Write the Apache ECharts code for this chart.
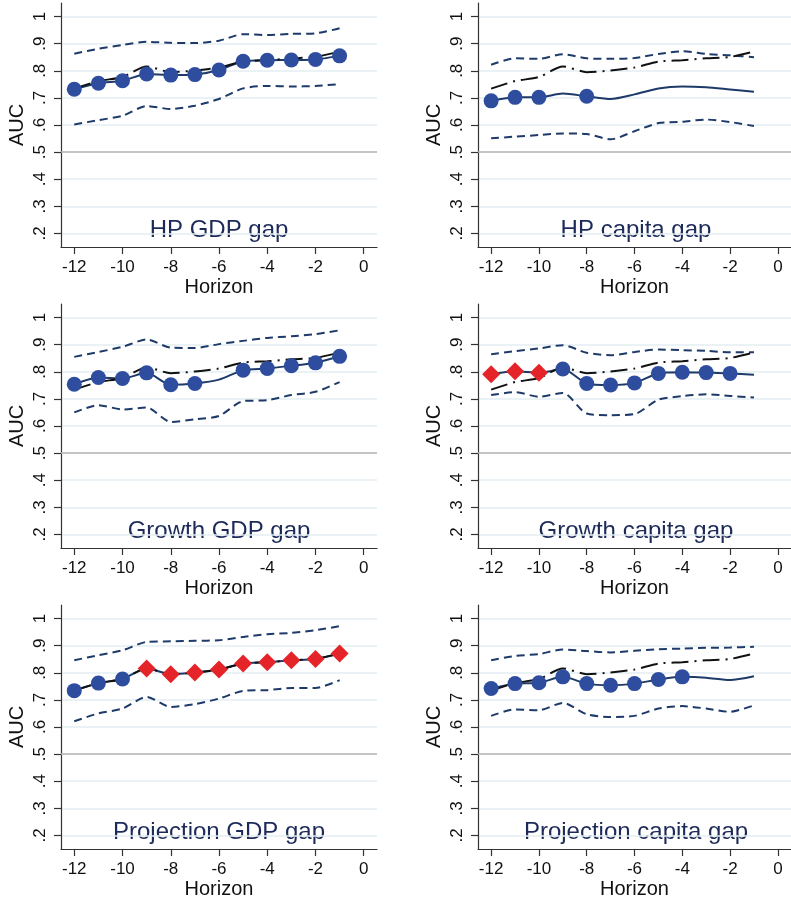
<!DOCTYPE html>
<html>
<head>
<meta charset="utf-8">
<script src="https://cdn.jsdelivr.net/npm/echarts@6/dist/echarts.min.js"></script>
<style>
  html, body { margin: 0; padding: 0; background: #ffffff; }
  #chart { width: 791px; height: 903px; }
</style>
</head>
<body>
<div id="chart"></div>
<script>
// ---------- data ----------
const HORIZON = [-12, -11, -10, -9, -8, -7, -6, -5, -4, -3, -2, -1];
const X_TICKS = [-12, -10, -8, -6, -4, -2, 0];
const Y_TICKS = [0.2, 0.3, 0.4, 0.5, 0.6, 0.7, 0.8, 0.9, 1.0];
const REF_LINE = 0.5;

// benchmark (dash-dot black line)
const BENCHMARK = [0.734, 0.762, 0.777, 0.816, 0.795, 0.801, 0.812, 0.834, 0.839, 0.846, 0.851, 0.871];

const PANEL_TITLES = ['HP GDP gap', 'HP capita gap', 'Growth GDP gap', 'Growth capita gap', 'Projection GDP gap', 'Projection capita gap'];

// marker codes: 'o' = blue circle, 'd' = red diamond, '-' = no marker
const hpGdpAuc   = [0.732, 0.754, 0.763, 0.788, 0.784, 0.786, 0.803, 0.835, 0.839, 0.840, 0.842, 0.855];
const hpGdpUpper = [0.863, 0.881, 0.895, 0.907, 0.903, 0.902, 0.911, 0.935, 0.932, 0.936, 0.938, 0.957];
const hpGdpLower = [0.602, 0.618, 0.634, 0.670, 0.659, 0.671, 0.696, 0.735, 0.744, 0.742, 0.744, 0.751];
const hpGdpMarks = ['o','o','o','o','o','o','o','o','o','o','o','o'];

const hpCapAuc   = [0.689, 0.702, 0.702, 0.716, 0.706, 0.696, 0.713, 0.735, 0.742, 0.739, 0.731, 0.723];
const hpCapUpper = [0.822, 0.846, 0.844, 0.861, 0.846, 0.844, 0.847, 0.862, 0.872, 0.862, 0.857, 0.850];
const hpCapLower = [0.551, 0.557, 0.563, 0.569, 0.567, 0.547, 0.577, 0.607, 0.612, 0.620, 0.611, 0.596];
const hpCapMarks = ['o','o','o','-','o','-','-','-','-','-','-','-'];

const grGdpAuc   = [0.754, 0.779, 0.775, 0.796, 0.752, 0.757, 0.771, 0.806, 0.812, 0.822, 0.833, 0.857];
const grGdpUpper = [0.855, 0.873, 0.892, 0.919, 0.889, 0.888, 0.902, 0.914, 0.925, 0.931, 0.939, 0.953];
const grGdpLower = [0.650, 0.677, 0.661, 0.668, 0.615, 0.625, 0.637, 0.692, 0.695, 0.714, 0.726, 0.762];
const grGdpMarks = ['o','o','o','o','o','o','-','o','o','o','o','o'];

const grCapAuc   = [0.791, 0.802, 0.796, 0.810, 0.757, 0.751, 0.759, 0.794, 0.798, 0.797, 0.794, 0.789];
const grCapUpper = [0.865, 0.876, 0.886, 0.898, 0.870, 0.861, 0.873, 0.882, 0.880, 0.877, 0.872, 0.872];
const grCapLower = [0.714, 0.725, 0.708, 0.722, 0.646, 0.640, 0.644, 0.697, 0.710, 0.717, 0.711, 0.705];
const grCapMarks = ['d','d','d','o','o','o','o','o','o','o','o','-'];

const prGdpAuc   = [0.734, 0.762, 0.777, 0.816, 0.795, 0.801, 0.812, 0.834, 0.839, 0.846, 0.851, 0.871];
const prGdpUpper = [0.846, 0.865, 0.883, 0.914, 0.916, 0.918, 0.920, 0.932, 0.942, 0.947, 0.957, 0.972];
const prGdpLower = [0.621, 0.650, 0.668, 0.711, 0.674, 0.684, 0.705, 0.733, 0.736, 0.744, 0.744, 0.773];
const prGdpMarks = ['o','o','o','d','d','d','d','d','d','d','d','d'];

const prCapAuc   = [0.742, 0.760, 0.763, 0.785, 0.760, 0.754, 0.760, 0.775, 0.785, 0.782, 0.773, 0.787];
const prCapUpper = [0.846, 0.862, 0.869, 0.886, 0.880, 0.875, 0.881, 0.887, 0.889, 0.892, 0.893, 0.896];
const prCapLower = [0.641, 0.665, 0.662, 0.689, 0.647, 0.637, 0.641, 0.668, 0.677, 0.668, 0.656, 0.680];
const prCapMarks = ['o','o','o','o','o','o','o','o','o','-','-','-'];

const PANELS = [
  { auc: hpGdpAuc, upper: hpGdpUpper, lower: hpGdpLower, marks: hpGdpMarks },
  { auc: hpCapAuc, upper: hpCapUpper, lower: hpCapLower, marks: hpCapMarks },
  { auc: grGdpAuc, upper: grGdpUpper, lower: grGdpLower, marks: grGdpMarks },
  { auc: grCapAuc, upper: grCapUpper, lower: grCapLower, marks: grCapMarks },
  { auc: prGdpAuc, upper: prGdpUpper, lower: prGdpLower, marks: prGdpMarks },
  { auc: prCapAuc, upper: prCapUpper, lower: prCapLower, marks: prCapMarks }
];

// ---------- layout / style ----------
const FONT = "'Liberation Sans', Arial, sans-serif";
const NAVY = '#1d3a69';
const DOT_BLUE = '#2e4d9f';
const RED = '#e5242a';
const GRID_LEFTS = [61, 478];
const GRID_TOPS = [3, 304, 605];
const GRID_W = 316, GRID_H = 244;
const X_MIN = -12.55, X_MAX = 0.55, Y_MIN = 0.15, Y_MAX = 1.05;

const pair = (arr) => HORIZON.map((h, j) => [h, arr[j]]);
const pick = (p, code) => HORIZON.map((h, j) => p.marks[j] === code ? [h, p.auc[j]] : null).filter(Boolean);

const grids = [], xAxes = [], yAxes = [], series = [], graphics = [];

PANELS.forEach((p, i) => {
  const col = i % 2, row = Math.floor(i / 2);
  const left = GRID_LEFTS[col], top = GRID_TOPS[row];
  grids.push({ left: left, top: top, width: GRID_W, height: GRID_H, containLabel: false });
  xAxes.push({
    type: 'value', gridIndex: i, min: X_MIN, max: X_MAX,
    name: 'Horizon', nameLocation: 'middle', nameGap: 30,
    nameTextStyle: { fontFamily: FONT, fontSize: 20, color: '#111' },
    axisLine: { show: true, onZero: false, lineStyle: { color: '#333', width: 1.2 } },
    axisTick: { show: true, length: 7, customValues: X_TICKS, lineStyle: { color: '#333', width: 1.2 } },
    axisLabel: { customValues: X_TICKS, fontFamily: FONT, fontSize: 17, color: '#111', margin: 12,
                 formatter: (v) => String(v) },
    splitLine: { show: false }
  });
  yAxes.push({
    type: 'value', gridIndex: i, min: Y_MIN, max: Y_MAX,
    name: 'AUC', nameLocation: 'middle', nameGap: 34,
    nameTextStyle: { fontFamily: FONT, fontSize: 20, color: '#111' },
    axisLine: { show: true, onZero: false, lineStyle: { color: '#333', width: 1.2 } },
    axisTick: { show: true, length: 7, customValues: Y_TICKS, lineStyle: { color: '#333', width: 1.2 } },
    axisLabel: { customValues: Y_TICKS, rotate: 90, fontFamily: FONT, fontSize: 17, color: '#111', margin: 12,
                 formatter: (v) => (v > 0.999 ? '1' : '.' + Math.round(v * 10)) },
    splitLine: { show: true, lineStyle: { color: '#e4eef2', width: 1.5 } }
  });
  // reference line at .5
  series.push({
    type: 'line', xAxisIndex: i, yAxisIndex: i, data: [], silent: true, z: 1,
    markLine: { silent: true, symbol: 'none', label: { show: false },
      lineStyle: { color: '#b4b4b4', width: 1.5, type: 'solid' },
      data: [{ yAxis: REF_LINE }], animation: false }
  });
  // confidence bands
  [p.upper, p.lower].forEach((band) => {
    series.push({
      type: 'line', xAxisIndex: i, yAxisIndex: i, data: pair(band),
      showSymbol: false, symbol: 'none', smooth: 0.25, z: 2,
      lineStyle: { color: NAVY, width: 2, type: [8, 5] }
    });
  });
  // main AUC line
  series.push({
    type: 'line', xAxisIndex: i, yAxisIndex: i, data: pair(p.auc),
    showSymbol: false, symbol: 'none', smooth: 0.25, z: 3,
    lineStyle: { color: NAVY, width: 2 }
  });
  // benchmark
  series.push({
    type: 'line', xAxisIndex: i, yAxisIndex: i, data: pair(BENCHMARK),
    showSymbol: false, symbol: 'none', smooth: 0.25, z: 4,
    lineStyle: { color: '#111', width: 2, type: [17, 6, 2, 6] }
  });
  // markers
  series.push({
    type: 'scatter', xAxisIndex: i, yAxisIndex: i, data: pick(p, 'o'),
    symbol: 'circle', symbolSize: 15, z: 5,
    itemStyle: { color: DOT_BLUE, opacity: 1 }
  });
  series.push({
    type: 'scatter', xAxisIndex: i, yAxisIndex: i, data: pick(p, 'd'),
    symbol: 'diamond', symbolSize: 18, z: 5,
    itemStyle: { color: RED, opacity: 1 }
  });
  graphics.push({
    type: 'text', x: left + GRID_W / 2, y: top + 227,
    style: { text: PANEL_TITLES[i], fontFamily: FONT, fontSize: 24, fill: '#1c2a59',
             align: 'center', verticalAlign: 'middle' }
  });
});

const chart = echarts.init(document.getElementById('chart'), null, { renderer: 'canvas' });
chart.setOption({
  animation: false,
  backgroundColor: '#ffffff',
  grid: grids,
  xAxis: xAxes,
  yAxis: yAxes,
  series: series,
  graphic: graphics
});
</script>
</body>
</html>
